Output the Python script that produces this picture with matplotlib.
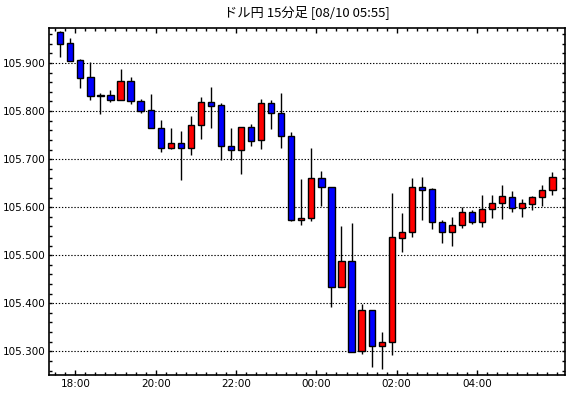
import numpy as np
import matplotlib
matplotlib.use("Agg")
import matplotlib.pyplot as plt
from matplotlib.ticker import FixedLocator, MultipleLocator

plt.rcParams['font.family'] = ['Noto Sans CJK JP', 'DejaVu Sans']

# ドル円 15分足 17:30 -> 05:45
opens  = [105.965, 105.941, 105.906, 105.870, 105.833, 105.833, 105.824, 105.862, 105.822, 105.803,
          105.764, 105.724, 105.733, 105.724, 105.772, 105.818, 105.812, 105.728, 105.720, 105.766,
          105.739, 105.816, 105.795, 105.749, 105.574, 105.578, 105.660, 105.641, 105.433, 105.487,
          105.301, 105.385, 105.311, 105.319, 105.536, 105.549, 105.641, 105.637, 105.570, 105.548,
          105.563, 105.590, 105.570, 105.597, 105.608, 105.622, 105.599, 105.607, 105.622, 105.635]
highs  = [105.966, 105.952, 105.908, 105.902, 105.837, 105.843, 105.887, 105.871, 105.826, 105.835,
          105.781, 105.765, 105.758, 105.790, 105.829, 105.850, 105.816, 105.765, 105.766, 105.774,
          105.826, 105.823, 105.838, 105.756, 105.658, 105.723, 105.676, 105.643, 105.560, 105.567,
          105.399, 105.385, 105.340, 105.629, 105.588, 105.660, 105.663, 105.639, 105.574, 105.579,
          105.601, 105.594, 105.625, 105.625, 105.646, 105.634, 105.616, 105.624, 105.646, 105.673]
lows   = [105.912, 105.905, 105.848, 105.824, 105.794, 105.819, 105.824, 105.815, 105.795, 105.764,
          105.715, 105.722, 105.657, 105.709, 105.742, 105.765, 105.699, 105.699, 105.669, 105.728,
          105.722, 105.763, 105.724, 105.572, 105.563, 105.572, 105.603, 105.392, 105.433, 105.298,
          105.294, 105.267, 105.263, 105.292, 105.507, 105.538, 105.573, 105.554, 105.525, 105.520,
          105.556, 105.564, 105.558, 105.578, 105.575, 105.589, 105.579, 105.594, 105.602, 105.626]
closes = [105.940, 105.905, 105.869, 105.832, 105.832, 105.824, 105.862, 105.822, 105.801, 105.764,
          105.724, 105.733, 105.724, 105.772, 105.818, 105.811, 105.728, 105.720, 105.766, 105.737,
          105.816, 105.795, 105.749, 105.574, 105.578, 105.660, 105.641, 105.433, 105.487, 105.298,
          105.385, 105.311, 105.320, 105.537, 105.549, 105.641, 105.636, 105.570, 105.548, 105.563,
          105.590, 105.570, 105.597, 105.608, 105.624, 105.599, 105.608, 105.622, 105.635, 105.662]

xlabels = ['18:00', '20:00', '22:00', '00:00', '02:00', '04:00']
xlabel_pos = [1.5, 9.5, 17.5, 25.5, 33.5, 41.5]   # 15分単位の位置
ylevels = [105.3, 105.4, 105.5, 105.6, 105.7, 105.8, 105.9]

o = np.array(opens); h = np.array(highs); l = np.array(lows); c = np.array(closes)
x = np.arange(len(o))
colors = np.where(c >= o, '#ff0000', '#0000ff')

fig = plt.figure(figsize=(5.70, 3.98), dpi=100)
ax = fig.add_axes([0.0865, 0.0585, 0.9047, 0.8699])

# grid
for yv in ylevels:
    ax.axhline(yv, color='black', lw=0.8, linestyle=(0, (1.2, 1.6)), zorder=1)

# wicks then bodies
ax.vlines(x, l, h, color='black', lw=1.0, zorder=2)
bottom = np.minimum(o, c)
height = np.maximum(np.abs(c - o), 0.0005)
ax.bar(x, height, bottom=bottom, width=0.62, color=colors, edgecolor='black', linewidth=1.0, zorder=3)

ax.set_xlim(-1.09, 50.25)
ax.set_ylim(105.2513, 105.9719)

ax.xaxis.set_major_locator(FixedLocator(xlabel_pos))
ax.set_xticklabels(xlabels)
ax.xaxis.set_minor_locator(FixedLocator(np.arange(-0.5, 50.5, 1)))
ax.yaxis.set_major_locator(FixedLocator(ylevels))
ax.set_yticklabels(['%.3f' % v for v in ylevels])
ax.yaxis.set_minor_locator(MultipleLocator(0.02))

ax.tick_params(which='both', direction='in', top=True, right=True, labelsize=7.5, colors='black')
ax.tick_params(which='major', length=3.8, width=1.0, pad=3)
ax.tick_params(which='minor', length=1.9, width=1.0)
ax.tick_params(axis='y', which='major', length=1.9)
for lab in ax.get_xticklabels() + ax.get_yticklabels():
    lab.set_family(['DejaVu Sans'])

for s in ax.spines.values():
    s.set_linewidth(1.2)
    s.set_color('black')

fig.text(0.539, 0.969, 'ドル円 15分足 [08/10 05:55]', ha='center', va='center', fontsize=9.5)

fig.savefig('out.png', dpi=100, facecolor='white')
